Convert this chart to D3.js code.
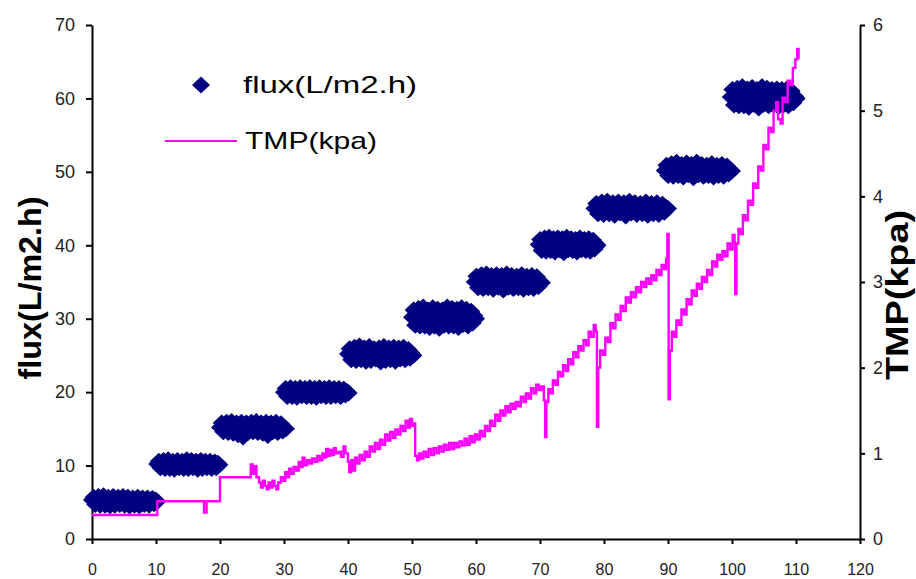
<!DOCTYPE html>
<html><head><meta charset="utf-8">
<script src="https://cdn.jsdelivr.net/npm/d3@7"></script>
<style>
body{margin:0;background:#fff;}
svg{display:block;}
</style></head>
<body>
<svg id="c" width="916" height="579"></svg>
<script>
// ---- data ----
const xTicks = [0,10,20,30,40,50,60,70,80,90,100,110,120];
const fluxTicks = [0,10,20,30,40,50,60,70];
const tmpTicks = [0,1,2,3,4,5,6];

// flux segments: start/end time (h) and measured flux values (L/m2.h)
const segStart = [0, 10.2, 20, 30, 40, 50, 59.8, 69.8, 78.5, 89.5, 99.8];
const segEnd   = [10.2, 19.9, 30.3, 40.1, 50.2, 60, 70.3, 79, 90, 100, 110.1];
const flux5  = [5.3,5.7,4.7,5.2,5.8,4.6,5.1,5.9,4.6,5.3,5.7,4.5,5.2,5.8,4.6,5.1,5.7,4.7,5.3,5.8,4.6,5.2,5.7,4.5,5.1,5.6,4.6,5.2,5.7,4.5,5.3,5.6,4.7,5.1,5.6,4.6,5.2,5.5,4.8,5.3,5.1];
const flux10 = [10.2,10.6,9.7,10.1,10.7,9.6,10.2,10.8,9.6,10.1,10.6,9.5,10.2,10.7,9.7,10.1,10.6,9.6,10.2,10.8,9.6,10.1,10.7,9.7,10.2,10.6,9.5,10.1,10.7,9.6,10.2,10.6,9.7,10.1,10.6,9.6,10.2,10.5,9.7,10.3,10.1];
const flux15 = [15.2,15.8,14.6,15.1,15.9,14.5,15.2,16.0,14.4,15.3,15.8,14.2,15.1,15.9,13.9,15.2,15.8,14.5,15.3,15.9,14.6,15.1,16.0,14.5,15.2,15.8,14.4,15.3,15.9,14.1,15.1,15.8,14.6,15.2,15.9,14.5,15.3,15.7,14.7,15.2,15.0];
const flux20 = [20.0,20.5,19.4,19.9,20.6,19.4,20.1,20.5,19.3,20.0,20.6,19.5,19.9,20.5,19.4,20.1,20.6,19.4,20.0,20.5,19.3,19.9,20.6,19.5,20.1,20.5,19.4,20.0,20.6,19.4,19.9,20.5,19.5,20.1,20.5,19.4,20.0,20.4,19.6,20.1,19.9];
const flux25 = [25.2,25.9,24.4,25.1,26.1,24.3,25.3,26.3,24.4,25.2,26.0,24.2,25.1,26.2,24.3,25.3,25.9,24.5,25.2,26.0,24.1,25.1,26.2,24.3,25.3,26.0,24.4,25.2,26.1,24.2,25.1,26.0,24.5,25.3,26.1,24.4,25.2,25.8,24.6,25.3,25.0];
const flux30 = [30.2,31.2,29.1,30.1,31.4,29.0,30.3,31.6,29.0,30.2,31.2,28.8,30.1,31.5,29.0,30.3,31.3,28.7,30.2,31.2,29.1,30.1,31.6,29.0,30.3,31.4,29.0,30.2,31.3,28.8,30.1,31.5,29.2,30.3,31.3,29.0,30.2,31.0,29.4,30.4,30.0];
const flux35 = [35.0,35.8,34.2,35.1,36.0,34.1,35.0,36.1,34.2,35.1,35.9,34.0,35.0,36.0,34.3,35.1,35.9,33.9,35.0,36.1,34.3,35.1,35.9,34.1,35.0,35.8,34.2,35.1,36.0,34.0,35.0,35.8,34.2,35.1,35.9,34.1,35.0,35.7,34.4,35.1,34.9];
const flux40 = [40.1,40.8,39.3,40.0,41.0,39.2,40.2,41.1,39.3,40.1,40.9,39.1,40.0,41.0,39.4,40.2,40.9,39.0,40.1,41.1,39.4,40.0,40.9,39.3,40.2,40.8,39.1,40.1,41.0,39.4,40.0,40.8,39.3,40.2,40.9,39.2,40.1,40.7,39.5,40.1,40.0];
const flux45 = [45.0,45.7,44.3,45.1,45.9,44.2,45.0,46.0,44.3,45.1,45.8,44.1,45.0,45.9,44.4,45.1,45.8,44.0,45.0,46.0,44.4,45.1,45.8,44.2,45.0,45.7,44.3,45.1,45.9,44.1,45.0,45.7,44.3,45.1,45.8,44.2,45.0,45.6,44.5,45.1,45.0];
const flux50 = [50.2,50.9,49.5,50.3,51.1,49.4,50.2,51.3,49.5,50.3,51.0,49.3,50.2,51.2,49.6,50.3,51.0,49.2,50.2,51.3,49.6,50.3,51.0,49.4,50.2,50.9,49.5,50.3,51.1,49.3,50.2,50.9,49.5,50.3,51.0,49.4,50.2,50.8,49.7,50.3,50.1];
const flux60 = [60.2,61.2,59.1,60.1,61.4,59.0,60.3,61.6,59.0,60.2,61.3,58.8,60.1,61.5,59.2,60.3,61.2,58.7,60.2,61.6,59.2,60.1,61.4,59.0,60.3,61.2,59.1,60.2,61.3,58.9,60.1,61.2,59.1,60.3,61.3,59.0,60.2,61.0,59.4,60.3,60.0];
const fluxSegs = [flux5,flux10,flux15,flux20,flux25,flux30,flux35,flux40,flux45,flux50,flux60];

// TMP (kpa) recorded as step changes
const tmpTime = [0,10.2,17.5,17.9,20,24.8,25.1,25.4,25.7,26.1,26.4,26.7,27.0,27.3,27.6,27.9,28.2,28.5,28.8,29.1,29.5,29.9,30.2,30.5,30.8,31.1,31.5,31.9,32.3,32.6,32.9,33.2,33.6,34.0,34.4,34.8,35.2,35.6,36.0,36.3,36.6,36.9,37.2,37.5,37.8,38.1,38.5,38.9,39.3,39.6,40.0,40.2,40.5,40.8,41.1,41.4,41.8,42.2,42.6,43.0,43.4,43.8,44.2,44.6,45.0,45.4,45.8,46.2,46.6,47.0,47.4,47.8,48.2,48.6,49.0,49.4,49.7,50.0,50.3,50.5,50.8,51.1,51.4,51.8,52.2,52.6,53.0,53.4,53.8,54.2,54.6,55.0,55.4,55.8,56.2,56.6,57.0,57.4,57.8,58.2,58.6,59.0,59.4,59.8,60.2,60.6,61.0,61.4,61.8,62.2,62.6,63.0,63.4,63.8,64.2,64.6,65.0,65.4,65.8,66.2,66.6,67.0,67.4,67.8,68.2,68.6,69.0,69.4,69.8,70.2,70.6,70.8,71.0,71.3,71.6,72.0,72.4,72.8,73.2,73.6,74.0,74.4,74.8,75.2,75.6,76.0,76.4,76.8,77.2,77.6,78.0,78.4,78.7,78.9,79.1,79.4,79.8,80.2,80.6,81.0,81.4,81.8,82.2,82.6,83.0,83.4,83.8,84.2,84.6,85.0,85.4,85.8,86.2,86.6,87.0,87.4,87.8,88.2,88.6,89.0,89.4,89.7,89.9,90.1,90.3,90.6,90.9,91.3,91.7,92.1,92.5,92.9,93.3,93.7,94.1,94.5,94.9,95.3,95.7,96.1,96.5,96.9,97.3,97.7,98.1,98.5,98.9,99.3,99.7,100.1,100.4,100.5,100.7,101.0,101.3,101.7,102.1,102.5,102.9,103.3,103.7,104.1,104.5,104.9,105.3,105.7,106.1,106.5,106.9,107.2,107.6,107.9,108.3,108.7,109.1,109.5,109.9,110.2,110.4];
const tmpVal  = [0.28,0.44,0.31,0.44,0.72,0.87,0.76,0.85,0.72,0.66,0.6,0.68,0.62,0.58,0.66,0.6,0.68,0.62,0.58,0.66,0.72,0.68,0.78,0.72,0.82,0.76,0.84,0.8,0.9,0.84,0.95,0.86,0.92,0.88,0.94,0.9,0.97,0.92,1.0,0.95,1.05,0.97,1.04,0.98,1.06,1.0,1.02,0.96,1.08,1.0,0.9,0.78,0.92,0.8,0.95,0.88,0.98,0.92,1.02,0.96,1.08,1.02,1.12,1.05,1.16,1.1,1.22,1.15,1.25,1.18,1.28,1.22,1.32,1.26,1.38,1.3,1.4,1.32,1.35,0.97,0.92,1.0,0.94,1.02,0.96,1.05,0.98,1.06,1.0,1.08,1.02,1.1,1.04,1.12,1.05,1.12,1.07,1.14,1.09,1.17,1.1,1.2,1.13,1.22,1.16,1.26,1.2,1.32,1.26,1.38,1.32,1.45,1.38,1.5,1.44,1.55,1.48,1.58,1.52,1.6,1.55,1.66,1.6,1.7,1.64,1.76,1.7,1.8,1.74,1.78,1.62,1.19,1.6,1.75,1.7,1.85,1.8,1.95,1.9,2.03,1.96,2.1,2.04,2.18,2.12,2.25,2.2,2.32,2.26,2.42,2.36,2.5,2.42,1.31,2.0,2.2,2.15,2.35,2.3,2.52,2.46,2.62,2.56,2.72,2.66,2.82,2.76,2.88,2.82,2.94,2.88,3.0,2.94,3.04,2.98,3.08,3.02,3.14,3.08,3.2,3.15,3.27,3.56,1.63,2.2,2.42,2.36,2.55,2.5,2.68,2.62,2.8,2.74,2.9,2.84,2.98,2.92,3.06,3.0,3.14,3.08,3.24,3.18,3.32,3.26,3.36,3.3,3.45,3.38,3.55,3.46,2.86,3.45,3.62,3.56,3.78,3.72,3.95,3.9,4.15,4.1,4.35,4.3,4.6,4.55,4.8,4.75,5.0,5.1,4.9,4.85,5.15,5.1,5.35,5.3,5.5,5.6,5.72,5.6];

// ---- drawing ----
const svg = d3.select('#c');
const FONT = '"Liberation Sans", Arial, sans-serif';
const x = d3.scaleLinear().domain([0,120]).range([92,860]);
const yL = d3.scaleLinear().domain([0,70]).range([539,25]);
const yR = d3.scaleLinear().domain([0,6]).range([539,25]);

function styleAxis(g){
  g.selectAll('path.domain').attr('stroke','#000').attr('stroke-width',2);
  g.selectAll('.tick line').attr('stroke','#000').attr('stroke-width',2);
  g.selectAll('.tick text').attr('fill','#222').style('font-family',FONT);
}
svg.append('g').attr('transform','translate(0,539)')
  .call(d3.axisBottom(x).tickValues(xTicks).tickSize(5).tickSizeOuter(0).tickPadding(20))
  .call(styleAxis).call(g=>g.selectAll('.tick text').style('font-size','16px'));
svg.append('g').attr('transform','translate(92,0)')
  .call(d3.axisLeft(yL).tickValues(fluxTicks).tickSize(6).tickSizeOuter(0).tickPadding(11))
  .call(styleAxis).call(g=>g.selectAll('.tick text').style('font-size','18px'));
svg.append('g').attr('transform','translate(860,0)')
  .call(d3.axisRight(yR).tickValues(tmpTicks).tickFormat(d3.format('d')).tickSize(5).tickSizeOuter(0).tickPadding(8))
  .call(styleAxis).call(g=>g.selectAll('.tick text').style('font-size','18px'));

// flux points
const fluxPts = [];
fluxSegs.forEach((vals,i)=>{
  const n = vals.length;
  vals.forEach((v,j)=>fluxPts.push({t: segStart[i] + (segEnd[i]-segStart[i])*j/(n-1), v}));
});
const diamond = 'M0,-8.5L9,0L0,8.5L-9,0Z';
svg.append('g').selectAll('path').data(fluxPts).join('path')
  .attr('d',diamond)
  .attr('transform',d=>`translate(${x(d.t)},${yL(d.v)})`)
  .attr('fill','#000080');

// TMP line
const tmpData = tmpTime.map((t,i)=>({t, v: tmpVal[i]}));
svg.append('path').datum(tmpData)
  .attr('d', d3.line().x(d=>x(d.t)).y(d=>yR(d.v)).curve(d3.curveStepAfter))
  .attr('fill','none').attr('stroke','#FF00FF').attr('stroke-width',2.4);

// axis titles
svg.append('text').attr('transform','translate(41,288) rotate(-90)')
  .attr('text-anchor','middle').style('font-family',FONT).style('font-weight','bold')
  .style('font-size','31px').attr('textLength',183).attr('lengthAdjust','spacingAndGlyphs')
  .text('flux(L/m2.h)');
svg.append('text').attr('transform','translate(908,295) rotate(-90)')
  .attr('text-anchor','middle').style('font-family',FONT).style('font-weight','bold')
  .style('font-size','31px').attr('textLength',170).attr('lengthAdjust','spacingAndGlyphs')
  .text('TMP(kpa)');

// legend
const lg = svg.append('g');
lg.append('path').attr('d',diamond).attr('transform','translate(201,85)').attr('fill','#000080');
lg.append('text').attr('x',243).attr('y',93).style('font-family',FONT).style('font-size','24px')
  .attr('textLength',174).attr('lengthAdjust','spacingAndGlyphs').text('flux(L/m2.h)');
lg.append('line').attr('x1',165).attr('x2',237).attr('y1',141).attr('y2',141)
  .attr('stroke','#FF00FF').attr('stroke-width',2);
lg.append('text').attr('x',245).attr('y',149).style('font-family',FONT).style('font-size','24px')
  .attr('textLength',132).attr('lengthAdjust','spacingAndGlyphs').text('TMP(kpa)');
</script>
</body></html>
